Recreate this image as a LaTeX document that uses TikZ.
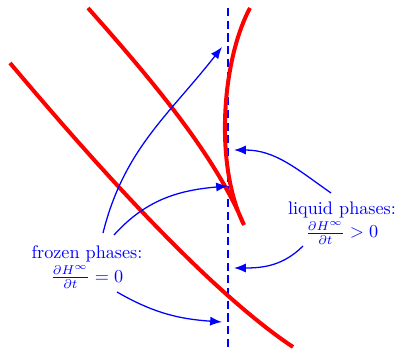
\documentclass[tikz,border=0pt]{standalone}
\usepackage{amsmath,amssymb}
\usetikzlibrary{arrows.meta}
\begin{document}
\begin{tikzpicture}[x=0.55pt,y=-0.55pt,
phase/.style={align=center,text=blue,inner sep=1pt},arr/.style={-{Latex[length=6.5pt,width=5pt]},blue,line width=.7pt},front/.style={red,line width=2.2pt,line join=miter}]
\useasboundingbox (0,0) rectangle (399,349);
% interface and fronts
\coordinate (top) at (228,8); \coordinate (bot) at (228,349);
\draw[blue,line width=.9pt,dash pattern=on 4.5pt off 2.5pt] (top)--(bot);
\draw[front] (88,8) .. controls (152,80) and (215,155) .. (244,225) .. controls (214,165) and (222,60) .. (250,8);
\draw[front] (10,63) .. controls (75,140) and (200,285) .. (293,347);
% labels
\node[phase] (frozen) at (87,267) {frozen phases:\\[1pt]$\frac{\partial H^\infty}{\partial t}=0$};
\node[phase] (liquid) at (342,223) {liquid phases:\\[1pt]$\frac{\partial H^\infty}{\partial t}>0$};
\coordinate (f1) at (103,233); \coordinate (f2) at (114,235); \coordinate (f3) at (117,292);
\coordinate (l1) at (331,193); \coordinate (l2) at (303,246);
\coordinate (a1) at (222,47); \coordinate (a2) at (228,186); \coordinate (a3) at (222,322);
\coordinate (b1) at (234,150); \coordinate (b2) at (234,268);
\draw[arr] (f1) to[out=76,in=232] (a1);
\draw[arr] (f2) to[out=48,in=185] (a2);
\draw[arr] (f3) to[out=-30,in=176] (a3);
\draw[arr] (l1) to[out=145,in=0] (b1);
\draw[arr] (l2) to[out=225,in=0] (b2);
\end{tikzpicture}
\end{document}
